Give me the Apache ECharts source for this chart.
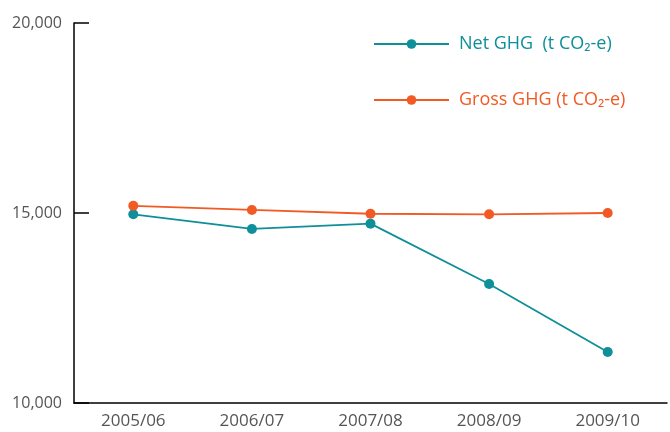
<!DOCTYPE html>
<html><head><meta charset="utf-8">
<script src="https://cdn.jsdelivr.net/npm/echarts@6/dist/echarts.min.js"></script>
<style>html,body{margin:0;padding:0;background:#fff}#c{width:670px;height:432px}</style>
</head><body><div id="c"></div>
<script>
const categories = ['2005/06','2006/07','2007/08','2008/09','2009/10'];
const netGHG = [14965, 14580, 14720, 13130, 11340];
const grossGHG = [15190, 15080, 14980, 14965, 15000];
const yTicks = [10000, 15000, 20000];
const netName = 'Net GHG  (t CO\u2082-e)';
const grossName = 'Gross GHG (t CO\u2082-e)';
const teal = '#0e8f99', orange = '#f15a24', grey = '#555555';
const chart = echarts.init(document.getElementById('c'));
chart.setOption({
  animation: false,
  textStyle: {fontFamily: 'Open Sans'},
  grid: {left: 74, right: 3, top: 23, bottom: 29},
  legend: {
    orient: 'vertical', left: 368, top: 30, itemWidth: 75, itemHeight: 12, itemGap: 38,
    textStyle: {fontSize: 18, padding: [0, 0, 0, 5]},
    data: [
      {name: netName, textStyle: {color: teal}},
      {name: grossName, textStyle: {color: orange}}
    ]
  },
  xAxis: {
    type: 'category', data: categories, boundaryGap: true,
    axisLine: {lineStyle: {color: '#000', width: 1.5}},
    axisTick: {inside: true, length: 8, lineStyle: {color: '#000', width: 1.5}},
    axisLabel: {color: grey, fontSize: 17, margin: 10}
  },
  yAxis: {
    type: 'value', min: yTicks[0], max: yTicks[yTicks.length-1], interval: yTicks[1]-yTicks[0],
    splitLine: {show: false},
    axisLine: {show: true, lineStyle: {color: '#000', width: 1.5}},
    axisTick: {show: true, inside: true, length: 15, lineStyle: {color: '#000', width: 1.5}},
    axisLabel: {color: grey, fontSize: 16, margin: 12, formatter: v => v.toLocaleString('en-US')}
  },
  series: [
    {name: netName, type: 'line', data: netGHG, symbol: 'circle', symbolSize: 10,
     itemStyle: {color: teal}, lineStyle: {color: teal, width: 1.8}},
    {name: grossName, type: 'line', data: grossGHG, symbol: 'circle', symbolSize: 10,
     itemStyle: {color: orange}, lineStyle: {color: orange, width: 1.8}}
  ]
});
</script></body></html>
